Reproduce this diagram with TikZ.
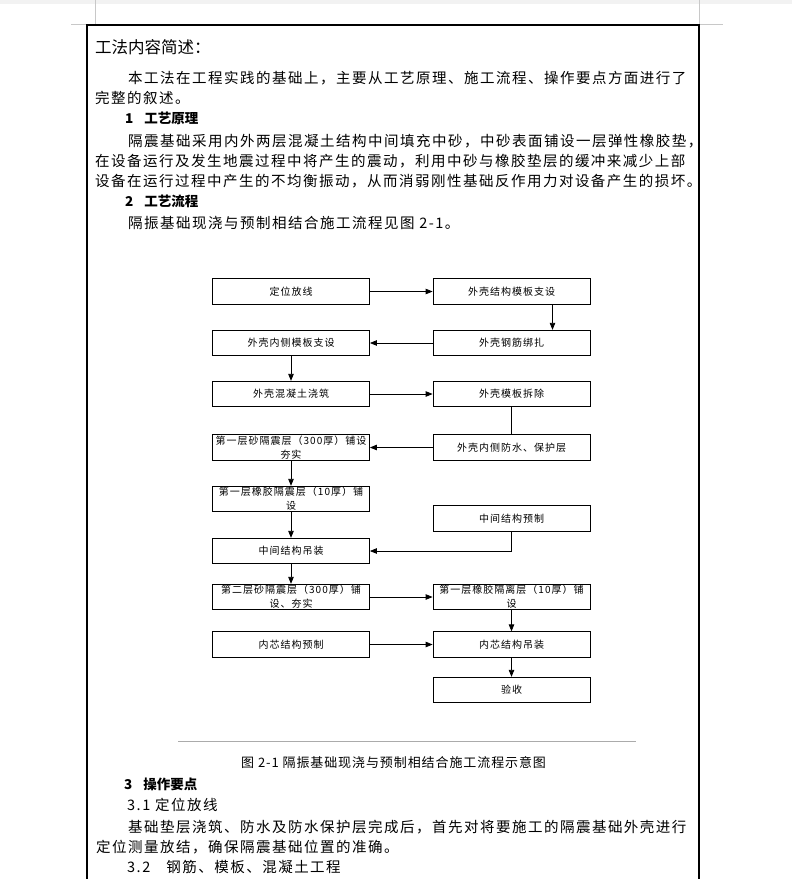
\documentclass[tikz,border=0pt]{standalone}
\usepackage{fontspec}
\setmainfont{Noto Sans CJK SC}
\usetikzlibrary{arrows.meta, positioning, calc}
\definecolor{pageGray}{HTML}{C8C8C8}
\definecolor{ruleGray}{HTML}{ABABAB}
\definecolor{bandGray}{HTML}{F2F2F2}
\newcommand{\bodytxt}{\fontsize{14.5}{16}\selectfont\addfontfeature{LetterSpace=10.3}}
\newcommand{\titletxt}{\fontsize{16.5}{18}\selectfont}
\newcommand{\secttxt}{\fontsize{13.5}{16}\selectfont\bfseries}
\newcommand{\captxt}{\fontsize{13}{15}\selectfont\addfontfeature{LetterSpace=7}}
\newcommand{\flowtxt}{\fontsize{10}{14}\selectfont\addfontfeature{LetterSpace=10}}

\begin{document}
\begin{tikzpicture}[x=1pt, y=-1pt,
  flow/.style={draw, line width=0.8pt, minimum width=157pt, minimum height=25.5pt,
    inner sep=0.5pt, align=center, font=\flowtxt},
  para/.style={anchor=west, inner sep=0pt, font=\bodytxt},
  sect/.style={anchor=west, inner sep=0pt, font=\secttxt},
  arr/.style={-{Triangle[length=7pt,width=5.5pt]}, line width=0.8pt},
  link/.style={line width=0.8pt}]
  \useasboundingbox (0,0) rectangle (792,879);

  % Page edge and corner marks
  \fill[bandGray] (0,0) rectangle (792,4);
  \draw[pageGray, line width=0.8pt] (71,24) -- (95,24) -- (95,0);
  \draw[pageGray, line width=0.8pt] (699,0) -- (699,24) -- (723,24);
  \draw[line width=1.3pt] (87,879) |- (699,25) -- (699,879);

  % Text above the chart
  \node[anchor=west, inner sep=0pt, font=\titletxt] (title) at (95,47) {工法内容简述：};
  \node[para] (p1a) at (128,78) {本工法在工程实践的基础上，主要从工艺原理、施工流程、操作要点方面进行了};
  \node[para] (p1b) at (95,98) {完整的叙述。};
  \node[sect] (s1) at (125,118) {1\hspace{11pt}工艺原理};
  \node[para] (p2a) at (128,141) {隔震基础采用内外两层混凝土结构中间填充中砂，中砂表面铺设一层弹性橡胶垫，};
  \node[para] (p2b) at (95,161) {在设备运行及发生地震过程中将产生的震动，利用中砂与橡胶垫层的缓冲来减少上部};
  \node[para] (p2c) at (95,181) {设备在运行过程中产生的不均衡振动，从而消弱刚性基础反作用力对设备产生的损坏。};
  \node[sect] (s2) at (125,201) {2\hspace{11pt}工艺流程};
  \node[para] (p3) at (128,223) {隔振基础现浇与预制相结合施工流程见图 2-1。};

  % Flow chart — left and right columns
  \node[flow] (dwfx)  at (291,291.5)   {定位放线};
  \node[flow] (wkmb)  at (511.5,291.5) {外壳结构模板支设};
  \node[flow] (nemb)  at (291,343)     {外壳内侧模板支设};
  \node[flow] (gjbz)  at (511.5,343)   {外壳钢筋绑扎};
  \node[flow] (hntjz) at (291,394)     {外壳混凝土浇筑};
  \node[flow] (mbcc)  at (511.5,394)   {外壳模板拆除};
  \node[flow] (sand1) at (291,447.5)   {第一层砂隔震层（300厚）铺设\\夯实};
  \node[flow] (fsbh)  at (511.5,447.5) {外壳内侧防水、保护层};
  \node[flow] (rub1)  at (291,499)     {第一层橡胶隔震层（10厚）铺\\设};
  \node[flow] (zjyz)  at (511.5,518.5) {中间结构预制};
  \node[flow] (zjdz)  at (291,551)     {中间结构吊装};
  \node[flow] (sand2) at (291,597)     {第二层砂隔震层（300厚）铺\\设、夯实};
  \node[flow] (rub2)  at (511.5,597)   {第一层橡胶隔离层（10厚）铺\\设};
  \node[flow] (nxyz)  at (291,644.5)   {内芯结构预制};
  \node[flow] (nxdz)  at (511.5,644.5) {内芯结构吊装};
  \node[flow] (ys)    at (511.5,690)   {验收};

  % Connectors
  \draw[arr] (dwfx) -- (wkmb);
  \draw[arr] ([xshift=41pt]wkmb.south) -- ([xshift=41pt]gjbz.north);
  \draw[arr] (gjbz) -- (nemb);
  \draw[arr] (nemb) -- (hntjz);
  \draw[arr] (hntjz) -- (mbcc);
  \draw[link] (mbcc) -- (fsbh);
  \draw[arr] (fsbh) -- (sand1);
  \draw[arr] (sand1) -- (rub1);
  \draw[arr] (rub1) -- (zjdz);
  \draw[arr] (zjyz.south) |- (zjdz.east);
  \draw[arr] (zjdz) -- (sand2);
  \draw[arr] (sand2) -- (rub2);
  \draw[arr] (rub2) -- (nxdz);
  \draw[arr] (nxyz) -- (nxdz);
  \draw[arr] (nxdz) -- (ys);

  % Caption and text below
  \draw[ruleGray, line width=0.8pt] (178,741) -- (636,741);
  \node[anchor=west, inner sep=0pt, font=\captxt] (cap) at (241,763) {图 2-1 隔振基础现浇与预制相结合施工流程示意图};
  \node[sect] (s3) at (124,784) {3\hspace{11pt}操作要点};
  \node[para] (s31) at (127,805) {3.1 定位放线};
  \node[para] (p4a) at (128,827) {基础垫层浇筑、防水及防水保护层完成后，首先对将要施工的隔震基础外壳进行};
  \node[para] (p4b) at (96,847) {定位测量放结，确保隔震基础位置的准确。};
  \node[para] (s32) at (127,867) {3.2\hspace{16pt}钢筋、模板、混凝土工程};
\end{tikzpicture}
\end{document}
